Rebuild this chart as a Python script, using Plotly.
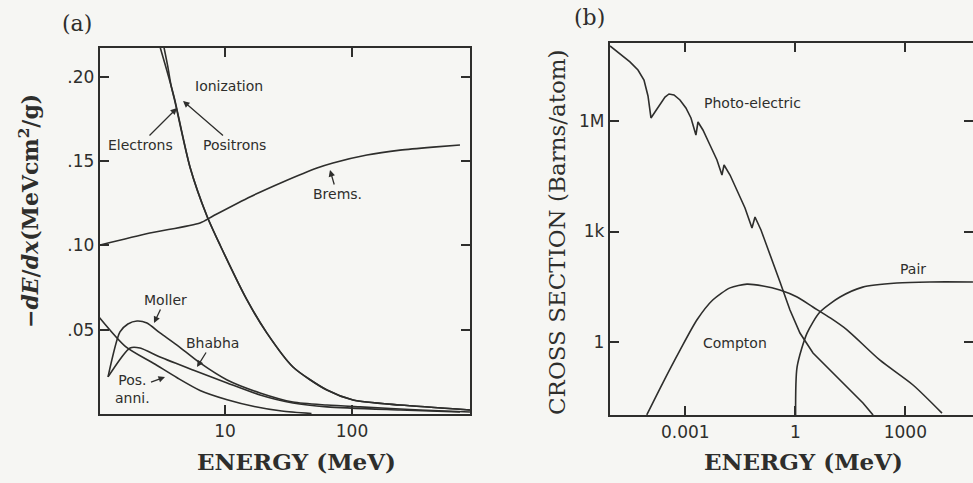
import plotly.graph_objects as go

# ---------------- Panel (a): -dE/dx vs energy ----------------
ion_e_x = [3.05, 3.45, 3.76, 4.04, 5.30, 7.21, 9.14, 14.9, 21.4, 34.3, 63.5, 102, 239, 849]
ion_e_y = [0.219, 0.205, 0.195, 0.186, 0.1466, 0.1175, 0.1003, 0.0677, 0.048, 0.0279, 0.0142, 0.0083, 0.0053, 0.0024]
ion_p_x = [3.28, 3.55, 3.76, 4.02, 5.30, 7.21, 9.14, 14.9, 21.4, 34.3, 63.5, 102, 239, 849]
ion_p_y = [0.219, 0.206, 0.195, 0.186, 0.1466, 0.1175, 0.1003, 0.0677, 0.048, 0.0279, 0.0142, 0.0083, 0.0053, 0.0024]

brems_x = [1.04, 2.56, 6.36, 8.05, 15.7, 28.6, 53.0, 70.8, 131, 239, 434, 708]
brems_y = [0.1003, 0.1074, 0.1134, 0.1175, 0.1288, 0.1377, 0.1460, 0.1490, 0.1537, 0.1566, 0.1584, 0.1596]

moller_x = [1.20, 1.49, 1.72, 2.03, 2.43, 3.08, 4.19, 6.36, 10.4, 18.9, 34.3, 63.5, 116, 343, 849]
moller_y = [0.0220, 0.0487, 0.0534, 0.0552, 0.0540, 0.0481, 0.0409, 0.0303, 0.0202, 0.0125, 0.0071, 0.0053, 0.0042, 0.0024, 0.0012]

bhabha_x = [1.20, 1.79, 2.14, 3.08, 5.60, 10.4, 18.9, 34.3, 63.5, 239, 708]
bhabha_y = [0.0220, 0.0392, 0.0392, 0.0338, 0.0261, 0.0184, 0.0113, 0.0065, 0.0042, 0.0024, 0.0012]

posanni_x = [1.02, 1.65, 2.75, 4.20, 6.36, 10.4, 17.0, 28.0, 48.0]
posanni_y = [0.0575, 0.0400, 0.0300, 0.0215, 0.0140, 0.0085, 0.0045, 0.0018, 0.0003]

a_xticks = [10, 100]
a_xlabels = ["10", "100"]
a_yticks = [0.05, 0.10, 0.15, 0.20]
a_ylabels = [".05", ".10", ".15", ".20"]

# ---------------- Panel (b): cross section vs energy ----------------
photo_x = [8.85e-6, 1.66e-5, 3.10e-5, 5.13e-5, 7.48e-5, 9.62e-5, 1.16e-4, 1.49e-4, 2.04e-4, 2.80e-4,
           3.60e-4, 4.92e-4, 7.16e-4, 1.04e-3, 1.43e-3, 1.95e-3, 2.22e-3, 3.03e-3, 4.71e-3, 7.31e-3,
           1.00e-2, 1.14e-2, 1.66e-2, 2.74e-2, 4.25e-2, 6.59e-2, 7.96e-2, 0.116, 0.169, 0.247,
           0.383, 0.716, 1.34, 3.04, 8.83, 25.7, 70.1, 132]
photo_y = [1.09e8, 6.61e7, 4.01e7, 2.43e7, 1.30e7, 4.78e6, 1.21e6, 1.76e6, 2.90e6, 4.49e6,
           5.42e6, 5.09e6, 3.72e6, 2.26e6, 1.21e6, 4.17e5, 9.40e5, 5.70e5, 2.23e5, 8.75e4,
           3.42e4, 6.40e4, 3.42e4, 1.18e4, 4.35e3, 1.24e3, 2.48e3, 1.10e3, 379, 131,
           42.6, 7.40, 1.75, 0.502, 0.174, 0.060, 0.0221, 0.0104]

compton_x = [8.9e-5, 2.45e-4, 7.2e-4, 2.09e-3, 5.6e-3, 1.66e-2, 4.8e-2, 0.132, 0.38, 1.12, 3.02, 9.0, 25.7, 204, 1620, 1.0e4]
compton_y = [0.0105, 0.078, 0.60, 4.0, 13.8, 29.5, 37.2, 33.1, 25.7, 16.6, 8.9, 4.5, 2.14, 0.32, 0.068, 0.0117]

pair_x = [1.02, 1.12, 2.09, 4.7, 16.6, 69, 589, 4680, 7.0e4]
pair_y = [0.0105, 0.21, 1.74, 6.5, 16.6, 30.9, 39.8, 42.7, 42.7]

b_xticks = [0.001, 1, 1000]
b_xlabels = ["0.001", "1", "1000"]
b_yticks = [1, 1e3, 1e6]
b_ylabels = ["1", "1k", "1M"]

INK = "#2e2e2c"
BG = "#f6f6f3"
W, H = 973, 483

fig = go.Figure()

def line(x, y, xa, ya, name, shape="spline"):
    ln = dict(color=INK, width=1.6, shape=shape)
    if shape == "spline":
        ln["smoothing"] = 0.7
    fig.add_trace(go.Scatter(x=x, y=y, mode="lines", name=name, xaxis=xa, yaxis=ya,
                             line=ln, showlegend=False, hoverinfo="name"))

line(ion_e_x, ion_e_y, "x", "y", "Ionization (electrons)")
line(ion_p_x, ion_p_y, "x", "y", "Ionization (positrons)")
line(brems_x, brems_y, "x", "y", "Brems.")
line(moller_x, moller_y, "x", "y", "Moller")
line(bhabha_x, bhabha_y, "x", "y", "Bhabha")
line(posanni_x, posanni_y, "x", "y", "Pos. anni.")
line(photo_x, photo_y, "x2", "y2", "Photo-electric", shape="linear")
line(compton_x, compton_y, "x2", "y2", "Compton")
line(pair_x, pair_y, "x2", "y2", "Pair")

def px(xp):
    return xp / W

def py(yp):
    return 1 - yp / H

tickfont = dict(family="DejaVu Sans, sans-serif", size=17, color=INK)
axcommon = dict(showgrid=False, zeroline=False, showline=True, linecolor=INK, linewidth=2.4,
                ticks="inside", ticklen=9, tickwidth=1.8, tickcolor=INK, tickfont=tickfont)

fig.update_layout(
    width=W, height=H, margin=dict(l=0, r=0, t=0, b=0),
    paper_bgcolor=BG, plot_bgcolor=BG,
    xaxis=dict(type="log", range=[0.016, 2.929], domain=[px(100), px(470)], anchor="y",
               tickvals=a_xticks, ticktext=a_xlabels, mirror="ticks", **axcommon),
    yaxis=dict(range=[0, 0.2172], domain=[py(414), py(48)], anchor="x",
               tickvals=a_yticks, ticktext=a_ylabels, mirror="ticks", **axcommon),
    xaxis2=dict(type="log", range=[-5.053, 4.846], domain=[px(610), 1.0], anchor="y2",
                tickvals=b_xticks, ticktext=b_xlabels, mirror="ticks", **axcommon),
    yaxis2=dict(type="log", range=[-1.982, 8.118], domain=[py(415), py(43)], anchor="x2",
                tickvals=b_yticks, ticktext=b_ylabels, mirror=False, **axcommon),
    yaxis3=dict(type="log", range=[-1.982, 8.118], overlaying="y2", side="right", anchor="x2",
                tickvals=b_yticks, showticklabels=False, showgrid=False, zeroline=False,
                showline=False, ticks="inside", ticklen=9, tickwidth=1.8, tickcolor=INK),
)
# invisible trace to activate the right-hand tick axis of panel (b)
fig.add_trace(go.Scatter(x=[1], y=[1], xaxis="x2", yaxis="y3", mode="markers",
                         marker=dict(opacity=0), showlegend=False, hoverinfo="skip"))

serif = "DejaVu Serif, serif"
ann = []

def ptext(text, x, y, size, family=serif, angle=0):
    ann.append(dict(text=text, x=px(x), y=py(y), xref="paper", yref="paper", showarrow=False,
                    xanchor="center", yanchor="middle", textangle=angle,
                    font=dict(family=family, size=size, color=INK)))

ptext("(a)", 77, 23, 22)
ptext("(b)", 589, 17, 22)
ptext("<b>ENERGY (MeV)</b>", 296, 461, 23)
ptext("<b>ENERGY (MeV)</b>", 803, 461, 23)
ptext("<b>−<i>dE</i>/<i>dx</i>(MeVcm<sup>2</sup>/g)</b>", 29, 211, 22, angle=-90)
ptext("CROSS SECTION (Barns/atom)", 557, 232, 23, angle=-90)

LAB = "DejaVu Sans, sans-serif"
for t, x, y in [("Ionization", 229, 86), ("Photo-electric", 752, 103),
                ("Compton", 735, 343), ("Pair", 913, 269)]:
    ptext(t, x, y, 14, family=LAB)

def plabel_arrow(text, lx, ly, hx, hy):
    # label centred at (lx, ly), arrow pointing at (hx, hy); pixel coordinates
    ann.append(dict(text=text, x=px(hx), y=py(hy), xref="paper", yref="paper",
                    ax=lx - hx, ay=ly - hy, showarrow=True, arrowhead=2, arrowsize=1.0,
                    arrowwidth=1.3, arrowcolor=INK, standoff=0,
                    font=dict(family=LAB, size=14, color=INK)))

plabel_arrow("Electrons", 140, 145, 177, 108)
plabel_arrow("Positrons", 234, 145, 183, 101)
plabel_arrow("Brems.", 337, 194, 330, 170)
plabel_arrow("Moller", 165, 300, 154, 323)
plabel_arrow("Bhabha", 212, 343, 197, 367)
plabel_arrow("Pos.<br>anni.", 132, 389, 165, 377)

fig.update_layout(annotations=ann)
fig.write_html("out.html")
